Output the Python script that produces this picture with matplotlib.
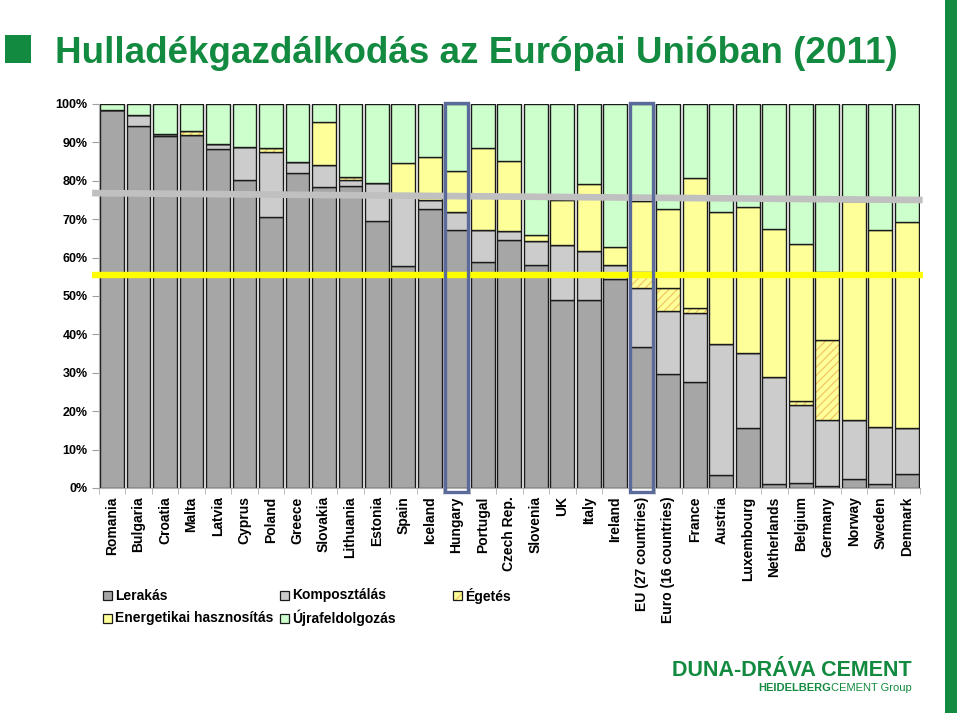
import numpy as np
import matplotlib
matplotlib.use("Agg")
import matplotlib.pyplot as plt
from matplotlib.patches import Rectangle

plt.rcParams['font.family'] = ['Liberation Sans', 'DejaVu Sans']
plt.rcParams['hatch.linewidth'] = 0.8

# Data (share of municipal waste treatment, %)
countries = ["Romania", "Bulgaria", "Croatia", "Malta", "Latvia", "Cyprus", "Poland",
             "Greece", "Slovakia", "Lithuania", "Estonia", "Spain", "Iceland", "Hungary",
             "Portugal", "Czech Rep.", "Slovenia", "UK", "Italy", "Ireland",
             "EU (27 countries)", "Euro (16 countries)", "France", "Austria", "Luxembourg",
             "Netherlands", "Belgium", "Germany", "Norway", "Sweden", "Denmark"]
lerakas = [98.4, 94.3, 91.6, 91.8, 88.3, 80.1, 70.6, 82.1, 78.5, 78.7, 69.5, 57.7, 72.6, 67.2,
           58.8, 64.7, 58.2, 49.0, 49.0, 54.4, 36.8, 29.6, 27.7, 3.4, 15.5, 1.0, 1.4, 0.5,
           2.3, 1.0, 3.6]
komposztalas = [0, 2.8, 0.7, 0, 1.3, 8.6, 16.8, 2.9, 5.6, 1.6, 10.0, 18.3, 2.4, 4.8, 8.4, 2.1,
                6.2, 14.3, 12.7, 3.7, 15.2, 16.5, 17.8, 34.0, 19.6, 28.0, 20.2, 17.2, 15.4,
                15.0, 11.9]
egetes = [0, 0, 0, 1.2, 0, 0, 1.2, 0, 0, 0.6, 0, 0, 0, 0, 0, 0, 0, 0, 0, 0, 4.3, 6.1, 1.3, 0,
          0, 0, 1.1, 20.8, 0, 0, 0]
energetikai = [0, 0, 0, 0, 0, 0, 0, 0, 11.3, 0, 0, 8.7, 11.3, 10.6, 21.3, 18.4, 1.6, 11.7,
               17.4, 4.7, 18.5, 20.4, 33.8, 34.6, 38.2, 38.4, 40.9, 17.8, 57.0, 51.2, 53.8]
ujrafeldolgozas = [1.6, 2.9, 7.7, 7.0, 10.4, 11.3, 11.4, 15.0, 4.6, 19.1, 20.5, 15.3, 13.7,
                   17.4, 11.5, 14.8, 34.0, 25.0, 20.9, 37.2, 25.2, 27.4, 19.4, 28.0, 26.7,
                   32.6, 36.4, 43.7, 25.3, 32.8, 30.7]
series_names = ["Lerakás", "Komposztálás", "Égetés", "Energetikai hasznosítás", "Újrafeldolgozás"]
y_ticks = [0, 10, 20, 30, 40, 50, 60, 70, 80, 90, 100]
highlighted = ["Hungary", "EU (27 countries)"]
gray_target = [76.8, 75.0]
yellow_target = [55.5, 55.5]

GREEN = '#128a3f'
W, H = 960, 716
colors = ['#a6a6a6', '#cccccc', '#ffff99', '#ffff99', '#ccffcc']
hatches = [None, None, '////', None, None]

fig = plt.figure(figsize=(W / 100, H / 100), dpi=100)
ax = fig.add_axes([98.75 / W, (H - 488) / H, (920 - 98.75) / W, 384 / H])

x = np.arange(len(countries))
bw = 0.9
bottom = np.zeros(len(countries))
for vals, col, hatch in zip([lerakas, komposztalas, egetes, energetikai, ujrafeldolgozas],
                            colors, hatches):
    vals = np.array(vals, dtype=float)
    if hatch:
        ax.bar(x, vals, bw, bottom=bottom, color=col, edgecolor='#f2bf5e',
               hatch=hatch, linewidth=0)
        ax.bar(x, vals, bw, bottom=bottom, fill=False, edgecolor='#1a1a1a', linewidth=1)
    else:
        ax.bar(x, vals, bw, bottom=bottom, color=col, edgecolor='#1a1a1a', linewidth=1)
    bottom += vals

# target lines
ax.plot([-0.75, 30.6], gray_target, color='#c0c0c0', lw=4.8,
        solid_capstyle='butt', clip_on=False, zorder=5)
ax.plot([-0.75, 30.6], yellow_target, color='#ffff00', lw=4.6,
        solid_capstyle='butt', clip_on=False, zorder=5)

# highlight boxes
for name in highlighted:
    i = countries.index(name)
    ax.add_patch(Rectangle((i - 0.44, -1.05), 0.88, 101.35, fill=False,
                           edgecolor='#5a6a9a', lw=2.4, clip_on=False, zorder=6))

ax.set_xlim(-0.5, len(countries) - 0.5)
ax.set_ylim(0, 100)
ax.set_yticks(y_ticks)
ax.set_yticklabels([f"{v}%" for v in y_ticks], fontsize=9, fontweight='bold')
ax.tick_params(axis='y', length=5, color='#a0a0a0', pad=3)
ax.set_xticks(x)
ax.set_xticklabels(countries, rotation=90, fontsize=10, fontweight='bold', va='top')
ax.tick_params(axis='x', length=0, pad=6)
ax.set_xticks(np.arange(len(countries) + 1) - 0.5, minor=True)
ax.tick_params(axis='x', which='minor', length=4, color='#b0b0b0')
for s in ['top', 'right']:
    ax.spines[s].set_visible(False)
for s in ['left', 'bottom']:
    ax.spines[s].set_color('#b0b0b0')
    ax.spines[s].set_linewidth(0.8)

# legend
def fx(px):
    return px / W

def fy(py):
    return 1 - py / H

legend_pos = [(103, 595.5), (280, 595.5), (453, 595.5), (103, 618), (280, 618)]
for name, col, hatch, (lx, ly) in zip(series_names, colors, hatches, legend_pos):
    if hatch:
        fig.add_artist(Rectangle((fx(lx), fy(ly + 4.5)), 9 / W, 9 / H, facecolor=col,
                                 edgecolor='#f2bf5e', hatch='///', lw=0,
                                 transform=fig.transFigure))
        fig.add_artist(Rectangle((fx(lx), fy(ly + 4.5)), 9 / W, 9 / H, fill=False,
                                 edgecolor='#1a1a1a', lw=0.9, transform=fig.transFigure))
    else:
        fig.add_artist(Rectangle((fx(lx), fy(ly + 4.5)), 9 / W, 9 / H, facecolor=col,
                                 edgecolor='#1a1a1a', lw=0.9, transform=fig.transFigure))
    fig.text(fx(lx + 12), fy(ly), name, fontsize=10, fontweight='bold', va='center')

# title and decorations
fig.add_artist(Rectangle((fx(5), fy(63)), 26 / W, 28 / H, facecolor=GREEN,
                         edgecolor='none', transform=fig.transFigure))
fig.add_artist(Rectangle((fx(945), fy(713)), 12 / W, 713 / H, facecolor=GREEN,
                         edgecolor='none', transform=fig.transFigure))
fig.text(fx(55), fy(63), "Hulladékgazdálkodás az Európai Unióban (2011)", fontsize=26.5,
         fontweight='bold', color=GREEN, va='baseline')

fig.text(fx(912), fy(676.5), "DUNA-DRÁVA CEMENT", fontsize=15.5, fontweight='bold',
         color=GREEN, ha='right', va='baseline')
fig.text(fx(912), fy(691), "CEMENT Group", fontsize=8, color=GREEN, ha='right',
         va='baseline')
fig.text(fx(831), fy(691), "HEIDELBERG", fontsize=8, fontweight='bold', color=GREEN,
         ha='right', va='baseline')

fig.savefig("out.png", dpi=100)
